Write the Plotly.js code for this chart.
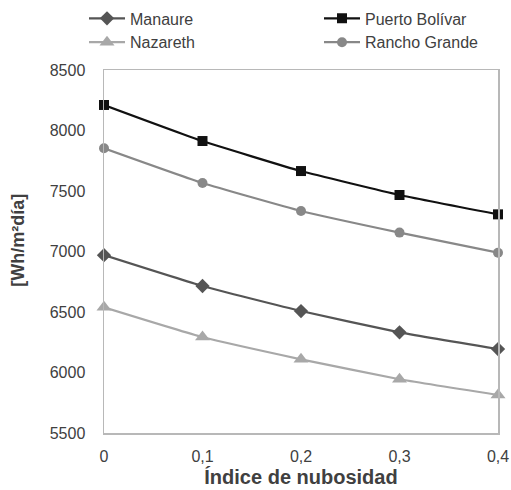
<!DOCTYPE html>
<html>
<head>
<meta charset="utf-8">
<script src="https://cdn.plot.ly/plotly-3.0.1.min.js"></script>
<style>html,body{margin:0;padding:0;background:#fff;}#chart{width:511px;height:490px;}</style>
</head>
<body>
<div id="chart"></div>
<script>
var xVals = [0, 0.1, 0.2, 0.3, 0.4];
var xLabels = ["0", "0,1", "0,2", "0,3", "0,4"];
var manaure = [6970, 6715, 6508, 6332, 6194];
var puertoBolivar = [8211, 7913, 7665, 7467, 7307];
var nazareth = [6539, 6293, 6109, 5944, 5814];
var ranchoGrande = [7853, 7566, 7335, 7156, 6990];
var yTicks = [5500, 6000, 6500, 7000, 7500, 8000, 8500];

function tr(name, y, color, symbol, size, leg) {
  return {
    x: xVals, y: y, name: name, type: 'scatter', mode: 'lines+markers',
    line: {color: color, width: 2.2, shape: 'spline', smoothing: 0.4},
    marker: {color: color, symbol: symbol, size: size},
    cliponaxis: false, legend: leg
  };
}
var data = [
  tr('Manaure', manaure, '#555555', 'diamond', 11, 'legend'),
  tr('Nazareth', nazareth, '#a8a8a8', 'triangle-up', 13, 'legend'),
  tr('Puerto Bolívar', puertoBolivar, '#111111', 'square', 10, 'legend2'),
  tr('Rancho Grande', ranchoGrande, '#888888', 'circle', 10, 'legend2')
];
var legBase = {
  orientation: 'v', xref: 'container', yref: 'container',
  y: 0.997, xanchor: 'left', yanchor: 'top',
  font: {size: 16, color: '#404040', family: 'Liberation Sans, Arial, sans-serif'},
  itemwidth: 36, tracegroupgap: 0, bgcolor: 'rgba(0,0,0,0)', traceorder: 'normal'
};
var legend1 = Object.assign({}, legBase, {x: 84 / 511});
var legend2 = Object.assign({}, legBase, {x: 319 / 511});
var titleFont = {color: '#404040', family: 'Liberation Sans, Arial, sans-serif', weight: 'bold'};
var layout = {
  width: 511, height: 490,
  margin: {l: 104, r: 13, t: 70, b: 57, autoexpand: false},
  paper_bgcolor: '#fff', plot_bgcolor: '#fff',
  font: {family: 'Liberation Sans, Arial, sans-serif', color: '#404040', size: 16},
  showlegend: true,
  legend: legend1,
  legend2: legend2,
  xaxis: {
    range: [0, 0.4], tickvals: xVals, ticktext: xLabels,
    showgrid: false, zeroline: false, showline: true, linecolor: '#b8b8b8', linewidth: 1.5,
    mirror: true, ticks: '', ticklabelstandoff: 8, automargin: false,
    title: {text: 'Índice de nubosidad', font: Object.assign({size: 20}, titleFont), standoff: 6}
  },
  yaxis: {
    range: [5500, 8500], tickvals: yTicks, automargin: false,
    showgrid: false, zeroline: false, showline: true, linecolor: '#b8b8b8', linewidth: 1.5,
    mirror: true, ticks: '', ticklabelstandoff: 14
  },
  annotations: [{
    text: '[Wh/m²día]', textangle: -90, xref: 'paper', yref: 'paper',
    x: -0.218, y: 0.53, xanchor: 'center', yanchor: 'middle', showarrow: false,
    font: Object.assign({size: 18}, titleFont)
  }]
};
Plotly.newPlot('chart', data, layout, {displayModeBar: false, staticPlot: true});
</script>
</body>
</html>
